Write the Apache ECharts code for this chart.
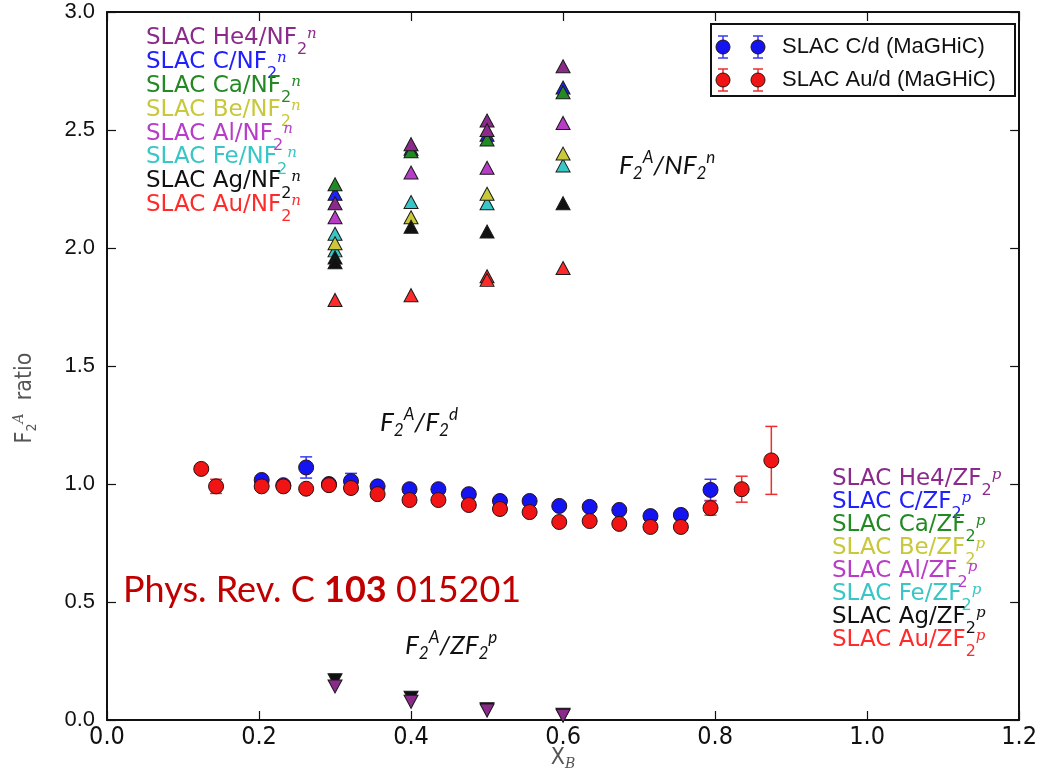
<!DOCTYPE html>
<html>
<head>
<meta charset="utf-8">
<script src="https://cdn.jsdelivr.net/npm/echarts@6/dist/echarts.min.js"></script>
<style>
html,body{margin:0;padding:0;background:#fff;}
#chart{width:1040px;height:776px;}
</style>
</head>
<body>
<div id="chart"></div>
<script>
// ---------- data ----------
const xTicks = [0.0, 0.2, 0.4, 0.6, 0.8, 1.0, 1.2];
const yTicks = [0.0, 0.5, 1.0, 1.5, 2.0, 2.5, 3.0];

// F2A / N F2n  (up triangles)
const heNF = [[0.3,2.19],[0.4,2.44],[0.5,2.54],[0.5,2.50],[0.6,2.77]];
const cNF  = [[0.3,2.23],[0.4,2.42],[0.5,2.48],[0.6,2.68]];
const caNF = [[0.3,2.27],[0.4,2.41],[0.5,2.46],[0.6,2.66]];
const beNF = [[0.3,2.02],[0.4,2.13],[0.5,2.23],[0.6,2.40]];
const alNF = [[0.3,2.13],[0.4,2.32],[0.5,2.34],[0.6,2.53]];
const feNF = [[0.3,2.06],[0.3,1.99],[0.4,2.195],[0.5,2.19],[0.6,2.35]];
const agNF = [[0.3,1.96],[0.3,1.94],[0.4,2.09],[0.5,2.07],[0.6,2.19]];
const auNF = [[0.3,1.78],[0.4,1.80],[0.5,1.88],[0.5,1.865],[0.6,1.915]];

// F2A / Z F2p  (down triangles)
const heZF = [[0.3,0.142],[0.4,0.077],[0.5,0.040],[0.6,0.018]];
const agZF = [[0.3,0.168],[0.4,0.094],[0.5,0.046],[0.6,0.022]];

// MaGHiC C/d
const cdX   = [0.2035,0.232,0.262,0.292,0.321,0.356,0.398,0.436,0.476,0.517,0.556,0.595,0.635,0.674,0.715,0.755,0.794];
const cdY   = [1.017,0.995,1.070,1.000,1.012,0.990,0.978,0.978,0.957,0.928,0.928,0.907,0.903,0.890,0.864,0.869,0.975];
const cdErr = [0.010,0.010,0.045,0.010,0.033,0.010,0.010,0.010,0.010,0.010,0.010,0.010,0.010,0.010,0.010,0.010,0.045];

// MaGHiC Au/d
const audX   = [0.124,0.1435,0.2035,0.232,0.262,0.292,0.321,0.356,0.398,0.436,0.476,0.517,0.556,0.595,0.635,0.674,0.715,0.755,0.794,0.835,0.874];
const audY   = [1.064,0.990,0.990,0.990,0.980,0.995,0.983,0.957,0.932,0.932,0.911,0.894,0.881,0.839,0.843,0.831,0.818,0.818,0.898,0.978,1.100];
const audErr = [0.010,0.030,0.010,0.010,0.010,0.010,0.010,0.010,0.010,0.010,0.010,0.010,0.010,0.010,0.010,0.010,0.010,0.010,0.030,0.055,0.144];

// legends / labels
const nuclei      = ['He4','C','Ca','Be','Al','Fe','Ag','Au'];
const nucleiColor = ['#8c2a8c','#2020ff','#238a23','#c8c83a','#b83cc8','#38c6c6','#111111','#ff2b2b'];
const magLegend   = ['SLAC C/d (MaGHiC)','SLAC Au/d (MaGHiC)'];
const citation    = ['Phys. Rev. C ','103',' 015201'];

// ---------- build ----------
const col = n => nucleiColor[nuclei.indexOf(n)];
const triStyle = c => ({color:c, borderColor:'#1a1a1a', borderWidth:1, opacity:1});

function upTri(name, data){
  return {type:'scatter', name:name+'/NF2n', data:data, symbol:'triangle', symbolSize:[14,13],
    itemStyle:triStyle(col(name)), z:3};
}
function downTri(name, data){
  return {type:'scatter', name:name+'/ZF2p', data:data, symbol:'triangle', symbolRotate:180, symbolSize:[14,13],
    itemStyle:triStyle(col(name)), z:3};
}
function errSeries(xs, ys, es, color, z){
  return {type:'custom', z:z, silent:true,
    data: xs.map((x,i)=>[x, ys[i], es[i]]),
    renderItem:function(params, api){
      const x = api.value(0), y = api.value(1), e = api.value(2);
      const lo = api.coord([x, y-e]), hi = api.coord([x, y+e]);
      const w = 6, st = {stroke:color, lineWidth:1.5};
      return {type:'group', children:[
        {type:'line', shape:{x1:lo[0],y1:lo[1],x2:hi[0],y2:hi[1]}, style:st},
        {type:'line', shape:{x1:lo[0]-w,y1:lo[1],x2:lo[0]+w,y2:lo[1]}, style:st},
        {type:'line', shape:{x1:hi[0]-w,y1:hi[1],x2:hi[0]+w,y2:hi[1]}, style:st}
      ]};
    }};
}
function circ(name, xs, ys, color, z){
  return {type:'scatter', name:name, z:z, data: xs.map((x,i)=>[x, ys[i]]), symbol:'circle', symbolSize:15,
    itemStyle:{color:color, borderColor:'#2a1010', borderWidth:1, opacity:1}};
}

const series = [
  upTri('C', cNF), upTri('Ca', caNF), upTri('He4', heNF), upTri('Al', alNF),
  upTri('Fe', feNF), upTri('Be', beNF), upTri('Ag', agNF), upTri('Au', auNF),
  downTri('Ag', agZF), downTri('He4', heZF),
  errSeries(cdX, cdY, cdErr, '#3a3af0', 4),
  circ(magLegend[0], cdX, cdY, '#1414f0', 5),
  errSeries(audX, audY, audErr, '#ee2e2e', 6),
  circ(magLegend[1], audX, audY, '#f01414', 7)
];

// graphic: legends and annotations
const graphic = [];
const legFont = "'DejaVu Sans', sans-serif";
function legendLine(x, y, txt, sup, color){
  return {type:'text', x:x, y:y, z:100, style:{
    text:'{m|'+txt+'}{s|2}{p|'+sup+'}', fill:color, verticalAlign:'middle', align:'left',
    rich:{
      m:{fontFamily:legFont, fontSize:23, fill:color},
      s:{fontFamily:legFont, fontSize:16, fill:color, padding:[24,0,0,0]},
      p:{fontFamily:"'DejaVu Serif', serif", fontStyle:'italic', fontSize:15, fill:color, padding:[0,0,8,0]}
    }}};
}
nuclei.forEach((n,i)=>{
  graphic.push(legendLine(146, 38 + i*23.9, 'SLAC '+n+'/NF', 'n', nucleiColor[i]));
  graphic.push(legendLine(832, 479 + i*23.0, 'SLAC '+n+'/ZF', 'p', nucleiColor[i]));
});

// MaGHiC legend box
graphic.push({type:'rect', shape:{x:711, y:24, width:304, height:72}, z:90,
  style:{fill:'#fff', stroke:'#111', lineWidth:2}});
const magCols = ['#1414f0','#f01414'], magErr = ['#3a3af0','#ee2e2e'];
[47, 80].forEach((yy, r)=>{
  [723, 758].forEach(xx=>{
    const st = {stroke:magErr[r], lineWidth:1.5};
    graphic.push({type:'line', z:95, shape:{x1:xx, y1:yy-11, x2:xx, y2:yy+11}, style:st});
    graphic.push({type:'line', z:95, shape:{x1:xx-5, y1:yy-11, x2:xx+5, y2:yy-11}, style:st});
    graphic.push({type:'line', z:95, shape:{x1:xx-5, y1:yy+11, x2:xx+5, y2:yy+11}, style:st});
    graphic.push({type:'circle', z:96, shape:{cx:xx, cy:yy, r:7}, style:{fill:magCols[r], stroke:'#2a1010', lineWidth:1}});
  });
  graphic.push({type:'text', x:782, y:yy, z:96, style:{text:magLegend[r], fontFamily:"'Liberation Sans', Arial, sans-serif",
    fontSize:22, fill:'#111', verticalAlign:'middle'}});
});

// annotations
const annFont = "Lato, 'Open Sans', sans-serif";
function ann(x, y, parts){
  return {type:'text', x:x, y:y, z:100, style:{text:parts, fill:'#111', verticalAlign:'middle',
    rich:{
      m:{fontFamily:annFont, fontStyle:'italic', fontSize:26, fill:'#111'},
      s:{fontFamily:annFont, fontStyle:'italic', fontSize:17, fill:'#111', padding:[16,0,0,0]},
      p:{fontFamily:annFont, fontStyle:'italic', fontSize:17, fill:'#111', padding:[0,0,16,0]}
    }}};
}
graphic.push(ann(619, 166, '{m|F}{s|2}{p|A}{m|/NF}{s|2}{p|n}'));
graphic.push(ann(380, 423, '{m|F}{s|2}{p|A}{m|/F}{s|2}{p|d}'));
graphic.push(ann(405, 646, '{m|F}{s|2}{p|A}{m|/ZF}{s|2}{p|p}'));

graphic.push({type:'text', x:123, y:590, z:100, style:{
  text:'{a|'+citation[0]+'}{b|'+citation[1]+'}{a|'+citation[2]+'}', verticalAlign:'middle',
  rich:{
    a:{fontFamily:"Lato, 'Open Sans', sans-serif", fontSize:36, fill:'#c00000'},
    b:{fontFamily:"Lato, 'Open Sans', sans-serif", fontSize:36, fontWeight:'bold', fill:'#c00000'}
  }}});

// axis titles
const narrow = "'Liberation Sans Narrow', 'DejaVu Sans Condensed', 'Liberation Sans', sans-serif";
graphic.push({type:'text', x:25, y:398, rotation:Math.PI/2, z:100, style:{
  text:'{m|F}{s|2}{p|A}{m|  ratio}', align:'center', verticalAlign:'middle',
  rich:{
    m:{fontFamily:narrow, fontSize:23, fill:'#555'},
    s:{fontFamily:narrow, fontSize:14, fill:'#555', padding:[14,0,0,0]},
    p:{fontFamily:"'DejaVu Serif', serif", fontStyle:'italic', fontSize:14, fill:'#555', padding:[0,0,12,0]}
  }}});
graphic.push({type:'text', x:563, y:758, z:100, style:{
  text:'{m|X}{s|B}', align:'center', verticalAlign:'middle',
  rich:{
    m:{fontFamily:narrow, fontSize:23, fill:'#555'},
    s:{fontFamily:"'DejaVu Serif', serif", fontStyle:'italic', fontSize:14, fill:'#555', padding:[12,0,0,0]}
  }}});

const axisLine = {show:true, onZero:false, lineStyle:{color:'#111', width:2}};
const tick = {show:true, inside:true, length:9, lineStyle:{color:'#111', width:1.2}};

const option = {
  animation:false,
  backgroundColor:'#fff',
  grid:{left:107, right:15, top:12, bottom:56, containLabel:false},
  xAxis:[
    {type:'value', min:xTicks[0], max:xTicks[xTicks.length-1], interval:0.2, position:'bottom',
     axisLine:axisLine, axisTick:tick, splitLine:{show:false},
     axisLabel:{fontFamily:narrow, fontSize:25, color:'#111', margin:5, formatter:v=>v.toFixed(1)}},
    {type:'value', min:xTicks[0], max:xTicks[xTicks.length-1], interval:0.2, position:'top',
     axisLine:axisLine, axisTick:tick, splitLine:{show:false}, axisLabel:{show:false}}
  ],
  yAxis:[
    {type:'value', min:yTicks[0], max:yTicks[yTicks.length-1], interval:0.5, position:'left',
     axisLine:axisLine, axisTick:tick, splitLine:{show:false},
     axisLabel:{fontFamily:"'Liberation Sans', Arial, sans-serif", fontSize:22, color:'#111', margin:12, formatter:v=>v.toFixed(1)}},
    {type:'value', min:yTicks[0], max:yTicks[yTicks.length-1], interval:0.5, position:'right',
     axisLine:axisLine, axisTick:tick, splitLine:{show:false}, axisLabel:{show:false}}
  ],
  series:series,
  graphic:graphic
};
const chart = echarts.init(document.getElementById('chart'), null, {renderer:'canvas'});
chart.setOption(option);
</script>
</body>
</html>
